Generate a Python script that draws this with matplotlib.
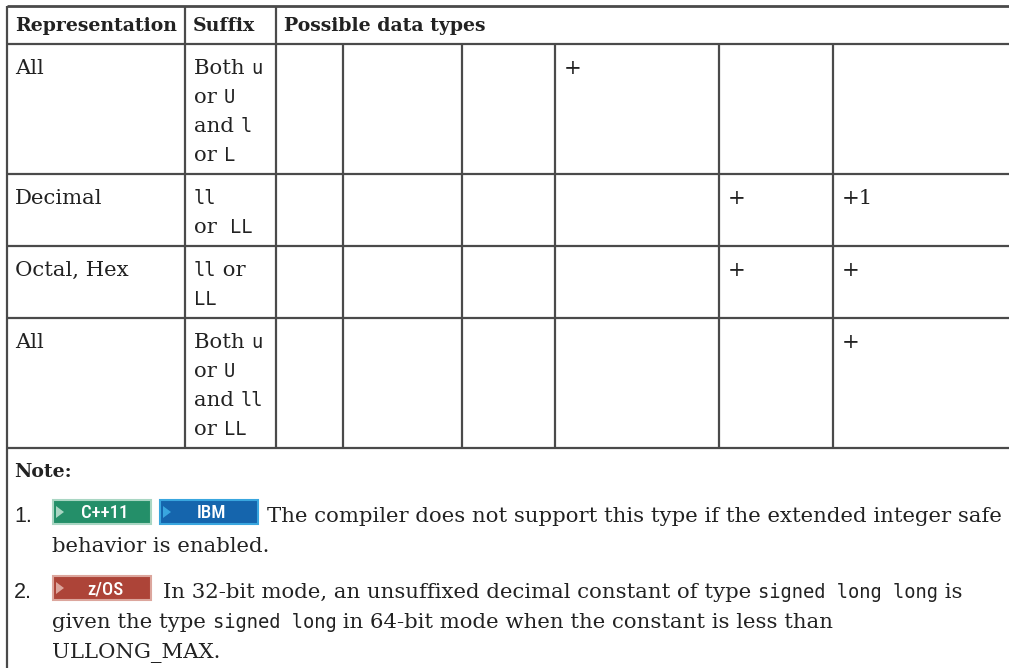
import matplotlib
matplotlib.use("Agg")
import matplotlib.pyplot as plt
from matplotlib.patches import Rectangle, Polygon

# ---- table content ----
headers = ["Representation", "Suffix", "Possible data types"]
representations = ["All", "Decimal", "Octal, Hex", "All"]
# each suffix line is a list of (text, font kind) runs
suffixes = [
    [[("Both ", "serif"), ("u", "mono")], [("or ", "serif"), ("U", "mono")],
     [("and ", "serif"), ("l", "mono")], [("or ", "serif"), ("L", "mono")]],
    [[("ll", "mono")], [("or  ", "serif"), ("LL", "mono")]],
    [[("ll", "mono"), (" or", "serif")], [("LL", "mono")]],
    [[("Both ", "serif"), ("u", "mono")], [("or ", "serif"), ("U", "mono")],
     [("and ", "serif"), ("ll", "mono")], [("or ", "serif"), ("LL", "mono")]],
]
# marks per row: {data-type column index: text}
marks = [
    {3: "+"},
    {4: "+", 5: "+1"},
    {4: "+", 5: "+"},
    {5: "+"},
]

note_title = "Note:"
note_numbers = ["1.", "2."]
note_badges = [[("C++11", "green"), ("IBM", "blue")], [("z/OS", "red")]]
note_lines = [
    [[("The compiler does not support this type if the extended integer safe", "serif")],
     [("behavior is enabled.", "serif")]],
    [[("In 32-bit mode, an unsuffixed decimal constant of type ", "serif"),
      ("signed long long", "mono"), (" is", "serif")],
     [("given the type ", "serif"), ("signed long", "mono"),
      (" in 64-bit mode when the constant is less than", "serif")],
     [("ULLONG_MAX.", "serif")]],
]

# ---- layout (pixels) ----
W, H = 1009, 668
col_x = [7, 185, 276, 343, 462, 555, 719, 833]
row_y = [6, 44, 174, 246, 318, 448]
line_col = "#4a4a4a"
text_col = "#222222"

fonts = {
    "serif": dict(family="DejaVu Serif", size=15.3),
    "mono": dict(family="DejaVu Sans Mono", size=13.5),
    "bold": dict(family="DejaVu Serif", size=13.6, weight="bold"),
    "sans": dict(family="Liberation Sans", size=15.5),
}
badge_style = {
    "green": ("#248f69", "#a9d6c3"),
    "blue": ("#1565ad", "#39a6df"),
    "red": ("#ad4438", "#dca69d"),
}

fig = plt.figure(figsize=(W / 100, H / 100), dpi=100)
ax = fig.add_axes([0, 0, 1, 1])
ax.set_xlim(0, W)
ax.set_ylim(H, 0)
ax.axis("off")
renderer = fig.canvas.get_renderer()


def runs(x, y, parts):
    for txt, kind in parts:
        t = ax.text(x, y, txt, va="baseline", ha="left", color=text_col, **fonts[kind])
        x += t.get_window_extent(renderer).width


def hline(y, x0=col_x[0], x1=W, lw=1.6):
    ax.plot([x0, x1], [y, y], color=line_col, lw=lw, solid_capstyle="butt")


def vline(x, y0, y1, lw=1.6):
    ax.plot([x, x], [y0, y1], color=line_col, lw=lw, solid_capstyle="butt")


# grid
hline(row_y[0], lw=2.0)
for y in row_y[1:]:
    hline(y)
vline(col_x[0], row_y[0], H)
for x in col_x[1:3]:
    vline(x, row_y[0], row_y[-1])
for x in col_x[3:]:
    vline(x, row_y[1], row_y[-1])

# header
for x, h in zip(col_x, headers):
    ax.text(x + 8, 31, h, va="baseline", ha="left", color=text_col, **fonts["bold"])

# body rows
for i, rep in enumerate(representations):
    top = row_y[i + 1]
    ax.text(col_x[0] + 8, top + 30, rep, va="baseline", ha="left", color=text_col, **fonts["serif"])
    for j, parts in enumerate(suffixes[i]):
        runs(col_x[1] + 9, top + 30 + 29 * j, parts)
    for c, m in marks[i].items():
        ax.text(col_x[2 + c] + 9, top + 30, m, va="baseline", ha="left", color=text_col, **fonts["serif"])

# notes
ax.text(col_x[0] + 7, 477, note_title, va="baseline", ha="left", color=text_col, **fonts["bold"])
note_base = [522, 598]
for k, num in enumerate(note_numbers):
    y = note_base[k]
    ax.text(col_x[0] + 7, y, num, va="baseline", ha="left", color=text_col, **fonts["sans"])
    bx = 53
    for label, style in note_badges[k]:
        fill, light = badge_style[style]
        bw, bh = 98, 24
        by = y - 22
        ax.add_patch(Rectangle((bx, by), bw, bh, facecolor=fill, edgecolor=light, lw=1.5))
        ax.add_patch(Polygon([(bx + 3, by + 6), (bx + 3, by + bh - 6), (bx + 11, by + bh / 2)],
                             closed=True, facecolor=light, edgecolor="none"))
        ax.text(bx + bw / 2 + 3, by + bh / 2 + 1, label, ha="center", va="center", color="white",
                family=["Roboto Condensed", "Liberation Sans Narrow", "DejaVu Sans"],
                size=13.5, weight="medium")
        bx += bw + 9
    first_x = bx if k == 0 else bx + 3
    for j, parts in enumerate(note_lines[k]):
        runs(first_x if j == 0 else 52, y + 30 * j, parts)

fig.savefig("out.png", dpi=100)
